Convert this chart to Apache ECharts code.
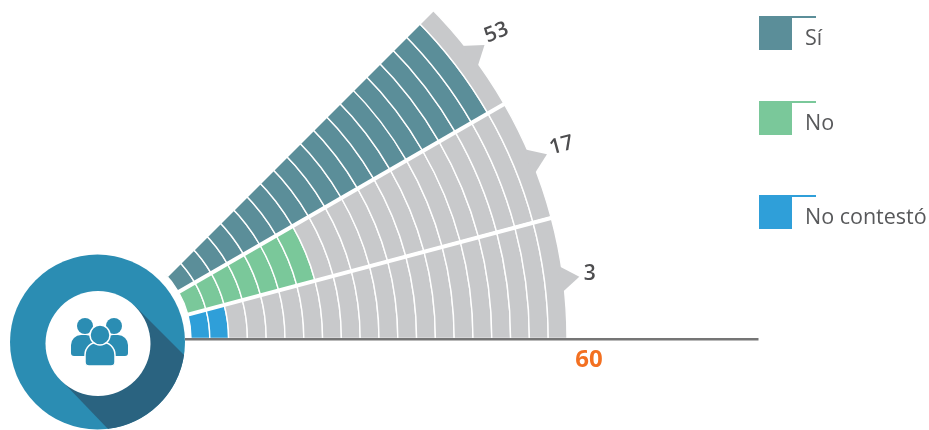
<!DOCTYPE html>
<html>
<head>
<meta charset="utf-8">
<style>html,body{margin:0;padding:0;background:#fff}#chart{width:929px;height:430px}</style>
<script src="https://cdn.jsdelivr.net/npm/echarts@6/dist/echarts.min.js"></script>
</head>
<body>
<div id="chart"></div>
<script>
// Answers to the survey question, outermost wedge first
const categories = ['Sí', 'No', 'No contestó'];
const values = [53, 17, 3];
const filledCells = [19, 7, 2];
const cellCount = 20;
const cellSize = 3;
const total = 60;
const colors = ['#5b8e99', '#7ac89a', '#2f9fd9'];
const emptyColor = '#c8c9cb';
const pointerAngles = [37.2, 22.3, 7.3];
const labelAngles = [37.5, 22.6, 7.5];
const labelRadii = [65.3, 65.3, 64.3];
const labelRotation = [22, 15, 0];
const legendTops = [16, 101, 195];
// Radial white cuts: angle of the cut and its stroke width
const cutAngles = [45, 30, 14.9];
const cutWidths = [12, 4, 4];

const center = [98, 338.5];
const innerR = 93;
const outerR = 469;
const unitPx = (outerR - innerR) / total;

const cellSeries = [];
for (let i = 0; i < cellCount; i++) {
  cellSeries.push({
    type: 'bar',
    name: 'celda' + i,
    coordinateSystem: 'polar',
    polarIndex: 0,
    stack: 'cells',
    barCategoryGap: '0%',
    silent: true,
    z: 2,
    itemStyle: { borderColor: '#fff', borderWidth: 1.4 },
    data: categories.map((c, k) => ({
      value: cellSize,
      itemStyle: { color: i < filledCells[k] ? colors[k] : emptyColor }
    }))
  });
}

const cuts = cutAngles.map((a, k) => ({
  type: 'line',
  coordinateSystem: 'polar',
  polarIndex: 1,
  silent: true,
  symbol: 'none',
  z: 3,
  lineStyle: { color: '#fff', width: cutWidths[k] },
  data: [[0, a], [total + 4, a]]
}));

const pointers = {
  type: 'scatter',
  coordinateSystem: 'polar',
  polarIndex: 1,
  silent: true,
  z: 3,
  data: pointerAngles.map(a => ({
    value: [total + 1, a],
    symbol: 'triangle',
    symbolSize: [28, 20],
    symbolRotate: a - 90,
    itemStyle: { color: emptyColor, opacity: 1 }
  }))
};

const valueLabels = {
  type: 'scatter',
  coordinateSystem: 'polar',
  polarIndex: 1,
  silent: true,
  symbolSize: 0,
  z: 4,
  data: labelAngles.map((a, k) => ({
    value: [labelRadii[k], a],
    itemStyle: { opacity: 1 },
    label: {
      show: true,
      position: 'inside',
      formatter: String(values[k]),
      rotate: labelRotation[k],
      fontFamily: 'Open Sans',
      fontWeight: 600,
      fontSize: 21,
      color: '#4d4d4f'
    }
  }))
};

const legendSeries = categories.map((c, k) => ({
  type: 'scatter',
  name: c,
  coordinateSystem: 'polar',
  polarIndex: 1,
  itemStyle: { color: colors[k], opacity: 1 },
  data: []
}));

// Small three-person glyph in the middle of the ring
const glyphBlue = '#2b8db3';
const peopleIcon = [
  { type: 'circle', z: 8, shape: { cx: 85, cy: 326, r: 8 }, style: { fill: glyphBlue } },
  { type: 'circle', z: 8, shape: { cx: 114, cy: 326, r: 8 }, style: { fill: glyphBlue } },
  { type: 'rect', z: 8, shape: { x: 71, y: 335, width: 25, height: 21, r: [10, 10, 2, 3] }, style: { fill: glyphBlue } },
  { type: 'rect', z: 8, shape: { x: 103, y: 335, width: 25, height: 21, r: [10, 10, 3, 2] }, style: { fill: glyphBlue } },
  { type: 'rect', z: 9, shape: { x: 85, y: 342, width: 30, height: 24, r: [13, 13, 4, 4] }, style: { fill: glyphBlue, stroke: '#fff', lineWidth: 1.5 } },
  { type: 'circle', z: 9, shape: { cx: 100, cy: 335, r: 10 }, style: { fill: glyphBlue, stroke: '#fff', lineWidth: 1.5 } }
];

const chart = echarts.init(document.getElementById('chart'), null, { renderer: 'canvas' });
chart.setOption({
  animation: false,
  backgroundColor: '#fff',
  polar: [
    { center: center, radius: [innerR, outerR] },
    { center: center, radius: [innerR, innerR + unitPx * 90] }
  ],
  angleAxis: [
    {
      polarIndex: 0,
      type: 'category',
      data: categories.concat(new Array(21).fill('')),
      startAngle: 45,
      clockwise: true,
      axisLine: { show: false }, axisTick: { show: false },
      axisLabel: { show: false }, splitLine: { show: false }
    },
    {
      polarIndex: 1,
      type: 'value',
      min: 0, max: 360,
      startAngle: 0,
      clockwise: false,
      axisLine: { show: false }, axisTick: { show: false },
      axisLabel: { show: false }, splitLine: { show: false }
    }
  ],
  radiusAxis: [
    {
      polarIndex: 0, type: 'value', min: 0, max: total,
      axisLine: { show: false }, axisTick: { show: false },
      axisLabel: { show: false }, splitLine: { show: false }
    },
    {
      polarIndex: 1, type: 'value', min: 0, max: 90,
      axisLine: { show: false }, axisTick: { show: false },
      axisLabel: { show: false }, splitLine: { show: false }
    }
  ],
  legend: categories.map((c, k) => ({
    data: [c],
    left: 759,
    top: legendTops[k],
    padding: 0,
    orient: 'vertical',
    selectedMode: false,
    // Swatch fills the upper part of a taller key, so the text sits below its middle
    icon: 'path://M0 0H33V34H0Z M0 46H33V46H0Z',
    itemWidth: 33,
    itemHeight: 46,
    textStyle: {
      fontFamily: 'Open Sans',
      fontSize: 21.5,
      color: '#58595b',
      padding: [0, 0, 0, 8]
    }
  })),
  series: cellSeries.concat(cuts, [pointers, valueLabels], legendSeries),
  graphic: {
    elements: [
      { type: 'line', z: 4, shape: { x1: 185, y1: 339.3, x2: 758.5, y2: 339.3 }, style: { stroke: '#757575', lineWidth: 2.6 } },
      { type: 'text', z: 5, style: { x: 589, y: 360, text: String(total), fill: '#f37021', font: '700 24px "Open Sans"', textAlign: 'center', textVerticalAlign: 'middle' } },
      { type: 'circle', z: 5, shape: { cx: 97.5, cy: 342, r: 87.5 }, style: { fill: '#2b8db3' } },
      { type: 'sector', z: 6, shape: { cx: 97.5, cy: 342, r0: 0, r: 87.5, startAngle: 8.5 * Math.PI / 180, endAngle: 83 * Math.PI / 180, clockwise: true }, style: { fill: '#2a6380' } },
      { type: 'polygon', z: 6, shape: { points: [[135, 306], [184, 355], [146, 392], [108, 429], [61, 380]] }, style: { fill: '#2a6380' } },
      { type: 'circle', z: 7, shape: { cx: 98, cy: 343.5, r: 52.5 }, style: { fill: '#fff' } },
      { type: 'group', children: peopleIcon },
      { type: 'line', z: 3, shape: { x1: 759, y1: 17, x2: 816, y2: 17 }, style: { stroke: colors[0], lineWidth: 2 } },
      { type: 'line', z: 3, shape: { x1: 759, y1: 102, x2: 816, y2: 102 }, style: { stroke: colors[1], lineWidth: 2 } },
      { type: 'line', z: 3, shape: { x1: 759, y1: 196, x2: 816, y2: 196 }, style: { stroke: colors[2], lineWidth: 2 } }
    ]
  }
});
</script>
</body>
</html>
